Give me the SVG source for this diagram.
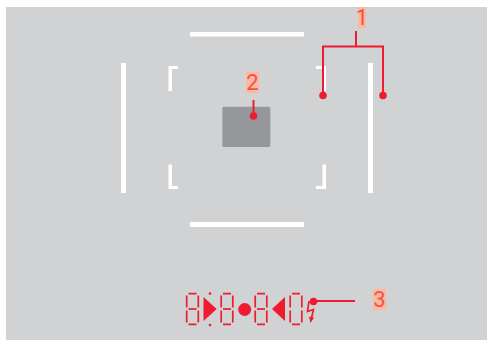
<svg xmlns="http://www.w3.org/2000/svg" width="487" height="340" viewBox="0 0 487 340">
<style>
.w{fill:#fff}
.hl{fill:#fbb9a5}
.lb{font-family:"Roboto","Liberation Sans",sans-serif;font-weight:400;font-size:22px;fill:#f1543f;text-anchor:middle}
.c{fill:none;stroke:#ee1c2e;stroke-width:2}
.d{fill:#ee1c2e}
.s{fill:none;stroke:#ee1c2e;stroke-width:1.7}
</style>
<defs>
<g id="zero" class="s">
<path d="M188.500 293.700H196.500M186.700 295.500V307.500M198.300 295.500V307.500M186.700 310.500V322.500M198.300 310.500V322.500M188.500 324.300H196.500"/>
</g>
<g id="eight">
<use href="#zero"/>
<path class="s" d="M188.500 309H196.500"/>
</g>
</defs>
<rect id="bg" x="6" y="7" width="481" height="333" fill="#d1d2d4"/>
<g id="frame">
<rect class="w" x="190" y="32" width="114" height="4.500"/>
<rect class="w" x="190" y="222" width="114" height="5"/>
<rect class="w" x="121" y="63" width="5" height="130"/>
<rect class="w" x="368" y="63" width="5" height="130"/>
<path class="w" d="M168.500 66H178V69H172V91H168.500Z"/>
<path class="w" d="M168.500 164.500H172V186H178V189H168.500Z"/>
<path class="w" d="M316 66H326V91H322.500V69H316Z"/>
<path class="w" d="M322.500 164.500H326V189H316V186H322.500Z"/>
</g>
<rect id="spot" x="222.300" y="106.700" width="48" height="40.300" rx="1.500" fill="#96979a"/>
<g id="display">
<use href="#eight"/>
<use href="#eight" x="34.500"/>
<use href="#eight" x="68.500"/>
<use href="#zero" x="103.500"/>
<circle class="d" cx="210" cy="293.500" r="1.300"/>
<circle class="d" cx="210" cy="325" r="1.300"/>
<path class="d" d="M203.500 297V321L216.700 309Z"/>
<circle class="d" cx="244.700" cy="309.500" r="6.500"/>
<path class="d" d="M285 297V321L272 309Z"/>
<path class="s" d="M309 301L307.500 311.500L313.500 309.500L311.500 318"/>
<path class="d" d="M309 316.500L314 317.500L310.500 323Z"/>
</g>
<g id="connectors">
<path class="c" d="M356 31V46.500M323 95.500V46.500H383V95.500"/>
<path class="c" d="M253.500 100V116"/>
<path class="c" d="M313.500 301H355"/>
</g>
<g id="dots">
<circle class="d" cx="323" cy="95.500" r="3.800"/>
<circle class="d" cx="383" cy="95.500" r="3.800"/>
<circle class="d" cx="253.500" cy="116" r="3.800"/>
<circle class="d" cx="313.500" cy="301.500" r="3.800"/>
</g>
<g id="label-1"><rect class="hl" x="358" y="7" width="8" height="21"/><text class="lb" x="362" y="25">1</text></g>
<g id="label-2"><rect class="hl" x="246" y="72" width="13" height="21"/><text class="lb" x="252.500" y="90">2</text></g>
<g id="label-3"><rect class="hl" x="373" y="289" width="13" height="21"/><text class="lb" x="379.500" y="307">3</text></g>
</svg>
